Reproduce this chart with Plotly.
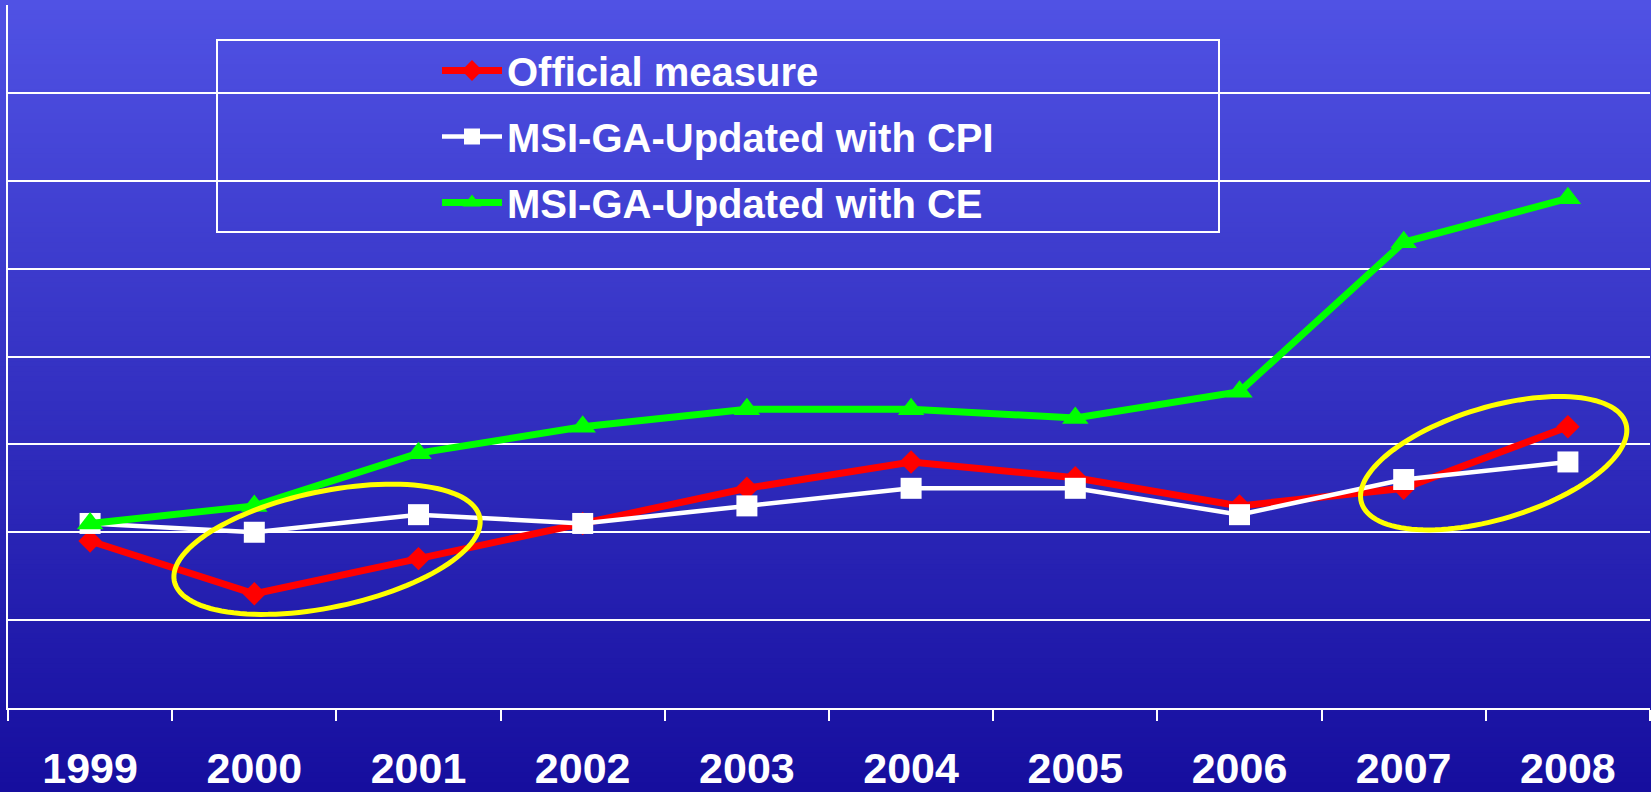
import math
import plotly.graph_objects as go

# ---------------- data ----------------
years = ["1999", "2000", "2001", "2002", "2003", "2004", "2005", "2006", "2007", "2008"]
official = [1.9, 1.3, 1.7, 2.1, 2.5, 2.8, 2.62, 2.3, 2.5, 3.2]
msi_cpi = [2.1, 2.0, 2.2, 2.1, 2.3, 2.5, 2.5, 2.2, 2.6, 2.8]
msi_ce = [2.1, 2.3, 2.9, 3.2, 3.4, 3.4, 3.3, 3.6, 5.3, 5.8]
series_names = ["Official measure", "MSI-GA-Updated with CPI", "MSI-GA-Updated with CE"]

# highlight ellipses: (category index centre, value centre, semi-axes px, tilt deg)
highlights = [(1.443, 1.806, 156, 58, 11.8), (8.548, 2.786, 138, 56, 16.7)]

# ---------------- layout geometry ----------------
FIG_W, FIG_H = 1651, 792
M_L, M_R, M_T, M_B = 8, 1, 5, 84
PW, PH = FIG_W - M_L - M_R, FIG_H - M_T - M_B
Y_MAX = 8
N = len(years)

fig = go.Figure()
fig.add_trace(go.Scatter(
    x=years, y=official, name=series_names[0], mode="lines+markers",
    line=dict(color="#ff0000", width=7),
    marker=dict(symbol="diamond", size=18, color="#ff0000"),
    legendgroup="a"))
fig.add_trace(go.Scatter(
    x=years, y=msi_cpi, name=series_names[1], mode="lines+markers",
    line=dict(color="#ffffff", width=4.5),
    marker=dict(symbol="square", size=21, color="#ffffff"),
    legendgroup="b"))
fig.add_trace(go.Scatter(
    x=years, y=msi_ce, name=series_names[2], mode="lines+markers",
    line=dict(color="#00ff00", width=7),
    marker=dict(symbol="triangle-up", size=23, color="#00ff00"),
    legendgroup="c"))

shapes = []
# vertical gradient background
top = (80, 82, 228)
bot = (22, 14, 158)
NS = 160
for i in range(NS):
    f = i / (NS - 1)
    c = tuple(round(top[k] + (bot[k] - top[k]) * f) for k in range(3))
    py0 = FIG_H * i / NS - (20 if i == 0 else 0)
    py1 = FIG_H * (i + 1) / NS + (1 if i < NS - 1 else 30)
    shapes.append(dict(
        type="rect", xref="paper", yref="paper", layer="below",
        x0=-0.1, x1=1.1,
        y0=(FIG_H - M_B - py1) / PH, y1=(FIG_H - M_B - py0) / PH,
        fillcolor="rgb(%d,%d,%d)" % c, line=dict(width=0)))

# legend frame
shapes.append(dict(
    type="rect", xref="paper", yref="paper", layer="above",
    x0=(217 - M_L) / PW, x1=(1219 - M_L) / PW,
    y0=(FIG_H - M_B - 232) / PH, y1=(FIG_H - M_B - 40) / PH,
    line=dict(color="white", width=2), fillcolor="rgba(0,0,0,0)"))

# yellow ellipses
for cx, cy, a, b, th in highlights:
    t = math.radians(th)
    cxp = (cx + 0.5) / N
    cyp = cy / Y_MAX
    pts = []
    for k in range(121):
        s = 2 * math.pi * k / 120
        dx = a * math.cos(s) * math.cos(t) - b * math.sin(s) * math.sin(t)
        dy = a * math.cos(s) * math.sin(t) + b * math.sin(s) * math.cos(t)
        pts.append("%.5f,%.5f" % (cxp + dx / PW, cyp + dy / PH))
    shapes.append(dict(
        type="path", xref="paper", yref="paper", layer="above",
        path="M" + " L".join(pts) + " Z",
        line=dict(color="#ffff00", width=5)))

fig.update_layout(
    width=FIG_W, height=FIG_H,
    margin=dict(l=M_L, r=M_R, t=M_T, b=M_B, pad=0, autoexpand=False),
    paper_bgcolor="rgb(22,14,158)",
    plot_bgcolor="rgba(0,0,0,0)",
    shapes=shapes,
    showlegend=True,
    hovermode=False,
    legend=dict(
        x=(437 - M_L) / PW, xanchor="left",
        y=(FIG_H - M_B - 38) / PH, yanchor="top",
        bgcolor="rgba(0,0,0,0)", borderwidth=0,
        font=dict(family="Liberation Sans, Arial, sans-serif", size=40, color="white", weight="bold"),
        itemwidth=60, tracegroupgap=11, traceorder="grouped",
    ),
    xaxis=dict(
        type="category", tickson="boundaries", range=[-0.5, N - 0.5],
        showgrid=False, showline=True, linecolor="white", linewidth=2,
        ticks="outside", ticklen=11, tickwidth=2, tickcolor="white",
        ticklabelstandoff=21, automargin=False,
        tickfont=dict(family="Liberation Sans, Arial, sans-serif", size=43, color="white", weight="bold"),
        fixedrange=True, zeroline=False,
    ),
    yaxis=dict(
        range=[0, Y_MAX], dtick=1, showticklabels=False, automargin=False,
        showgrid=True, gridcolor="white", gridwidth=2,
        showline=True, linecolor="white", linewidth=2,
        zeroline=False, ticks="", fixedrange=True,
    ),
)

fig.write_html(
    "out.html",
    config={"displayModeBar": False, "staticPlot": True},
    post_script="document.body.style.margin='0';document.body.style.overflow='hidden';"
                "document.body.style.background='rgb(22,14,158)';",
)
